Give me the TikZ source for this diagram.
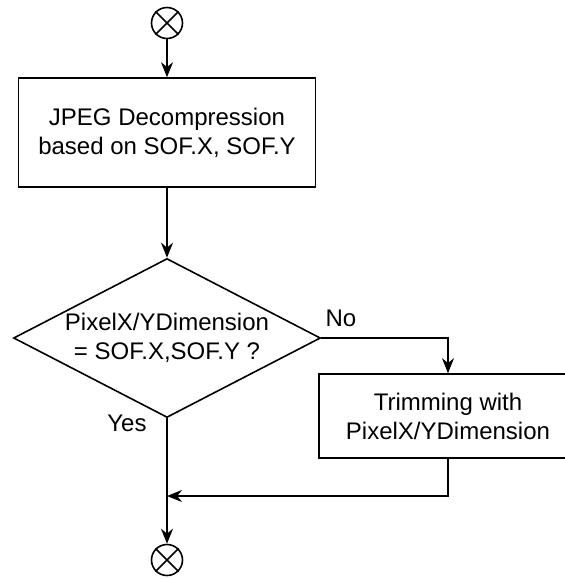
\documentclass[tikz,border=0pt]{standalone}
\usepackage{fontspec}
\setmainfont{Liberation Sans}
\usetikzlibrary{shapes.geometric,arrows.meta}
\begin{document}
\begin{tikzpicture}[x=0.5pt,y=-0.5pt,line width=0.8pt,>={Stealth[length=7.5pt,width=6pt]},
		every node/.style={font=\fontsize{12}{14.5}\selectfont},
		txt/.style={align=center,inner sep=0pt,execute at begin node=\rule{0pt}{10.8pt}},
		blk/.style={draw,rectangle,txt},
		term/.style={draw,circle,inner sep=0pt,minimum size=15.5pt}]
	\useasboundingbox (0,0) rectangle (565,579);
	\clip (0,0) rectangle (565,579);
	\node (St) at (167,23) [term] {};
	\node (De) at (167,132.5) [blk,minimum width=148.5pt,minimum height=54.5pt] {JPEG Decompression\\based on SOF.X, SOF.Y} edge [<-] (St);
	\node (Pi) at (167,338) [diamond,draw,txt,aspect=1.93,minimum width=153.5pt,minimum height=79.5pt] {PixelX/YDimension\\= SOF.X,SOF.Y ?} edge [<-] (De);
	\node (Tr) at (448,416) [blk,minimum width=129pt,minimum height=42pt] {Trimming with\\PixelX/YDimension};
	\node (En) at (167,560) [term] {} edge [<-] (Pi);
	\coordinate (Jo) at (167,496);
	\node (No) at (341,318) [] {No};
	\node (Ye) at (127,423) [] {Yes};
	\draw (St.north west) -- (St.south east) (St.north east) -- (St.south west);
	\draw (En.north west) -- (En.south east) (En.north east) -- (En.south west);
	\draw[->] (Pi.east) -| (Tr.north);
	\draw[->] (Tr.south) |- (Jo);
\end{tikzpicture}
\end{document}
